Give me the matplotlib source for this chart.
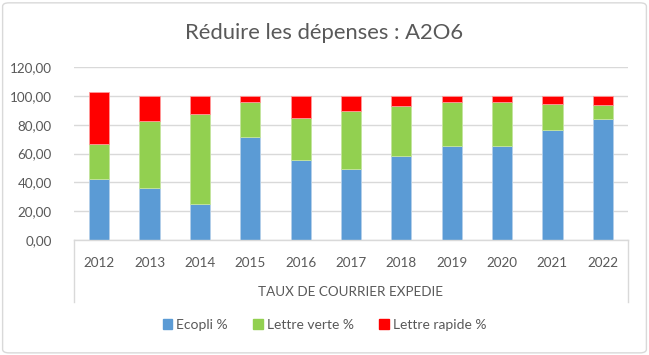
import numpy as np
import matplotlib.pyplot as plt
from matplotlib.patches import FancyBboxPatch, Patch
from matplotlib.lines import Line2D

plt.rcParams['font.family'] = ['Lato', 'DejaVu Sans']

# --- Data ---
years = ["2012", "2013", "2014", "2015", "2016", "2017", "2018", "2019", "2020", "2021", "2022"]
ecopli = [42.6, 35.9, 25.3, 71.6, 55.8, 49.1, 58.6, 65.3, 65.3, 76.4, 83.9]
lettre_verte = [23.9, 46.8, 62.3, 24.1, 29.0, 40.5, 34.5, 30.6, 30.1, 18.1, 9.9]
lettre_rapide = [35.9, 17.3, 12.4, 4.3, 15.2, 10.4, 6.9, 4.1, 4.6, 5.5, 6.2]
yticks = [0, 20, 40, 60, 80, 100, 120]

# --- Style ---
BLUE = "#5b9bd5"
GREEN = "#92d050"
RED = "#ff0000"
TEXT = "#595959"
GRID = "#d9d9d9"

fig = plt.figure(figsize=(6.49, 3.55), dpi=100, facecolor="white")
ax = fig.add_axes([74 / 649, 1 - 240 / 355, (628 - 74) / 649, (240 - 67) / 355])

x = np.arange(len(years))
w = 0.4
bottom2 = np.array(ecopli)
bottom3 = bottom2 + np.array(lettre_verte)
ax.bar(x, ecopli, w, color=BLUE, edgecolor="#b4cfe9", linewidth=0.6, zorder=2)
ax.bar(x, lettre_verte, w, bottom=bottom2, color=GREEN, edgecolor="#c4e49e", linewidth=0.6, zorder=2)
ax.bar(x, lettre_rapide, w, bottom=bottom3, color=RED, edgecolor="#ff9a9a", linewidth=0.6, zorder=2)

ax.set_xlim(-0.5, len(years) - 0.5)
ax.set_ylim(0, 120)
ax.set_yticks(yticks)
ax.set_yticklabels([f"{v:.2f}".replace(".", ",") for v in yticks], fontsize=9.7, color=TEXT)
ax.tick_params(axis="y", length=0, pad=16)
ax.grid(axis="y", color=GRID, linewidth=1.0, zorder=0)
ax.set_axisbelow(True)

ax.set_xticks(x)
ax.set_xticklabels(years, fontsize=9.7, color=TEXT)
ax.tick_params(axis="x", length=0, pad=12)

for s in ["top", "right", "left"]:
    ax.spines[s].set_visible(False)
ax.spines["bottom"].set_color(GRID)
ax.spines["bottom"].set_linewidth(1.0)

# multi-level category axis frame
ybot = -(302 - 240) / (240 - 67)
for xa in (0, 1):
    ax.add_line(Line2D([xa, xa], [0, ybot], transform=ax.transAxes, color=GRID,
                       linewidth=1.0, clip_on=False))
ax.text(0.5, -(292 - 240) / (240 - 67), "TAUX DE COURRIER EXPEDIE", transform=ax.transAxes,
        ha="center", va="center", fontsize=9.7, color=TEXT)

fig.text(0.5, 1 - 33 / 355, "Réduire les dépenses : A2O6", ha="center", va="center",
         fontsize=15.8, color=TEXT)

handles = [Patch(color=BLUE), Patch(color=GREEN), Patch(color=RED)]
fig.legend(handles, ["Ecopli %", "Lettre verte %", "Lettre rapide %"],
           loc="center", bbox_to_anchor=(0.5, 1 - 325 / 355), ncol=3, frameon=False,
           fontsize=10, labelcolor=TEXT, handlelength=0.7, handleheight=0.7,
           handletextpad=0.3, columnspacing=1.8)

fig.add_artist(FancyBboxPatch((0.004, 0.006), 0.992, 0.986, boxstyle="round,pad=0,rounding_size=0.01",
                              transform=fig.transFigure, facecolor="none", edgecolor=GRID, linewidth=1.0))

fig.savefig("out.png", dpi=100, facecolor="white")
